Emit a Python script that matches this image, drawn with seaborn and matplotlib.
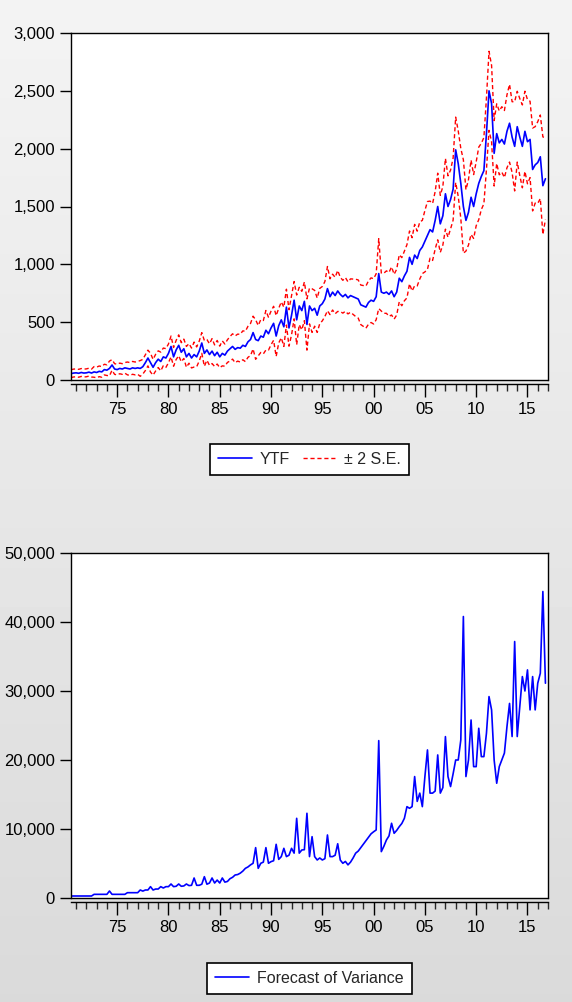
"""
Forecast chart: YTF with +/- 2 S.E. band and the forecast of variance.
"""
import numpy as np
import pandas as pd
import matplotlib
matplotlib.use('Agg')
import matplotlib.pyplot as plt
import matplotlib.ticker as mticker
import seaborn as sns

# Quarterly values, first point 1970 Q3
START_YEAR = 1970.5

ytf = [
    55, 60,                      # 1970
    62, 58, 65, 60,              # 1971
    62, 68, 60, 70,              # 1972
    65, 75, 70, 90,              # 1973
    85, 100, 130, 95,            # 1974
    90, 100, 95, 105,            # 1975
    100, 95, 105, 100,           # 1976
    105, 100, 115, 150,          # 1977
    190, 150, 110, 150,          # 1978
    180, 160, 200, 190,          # 1979
    230, 290, 200, 260,          # 1980
    300, 240, 270, 200,          # 1981
    230, 190, 220, 200,          # 1982
    250, 320, 230, 260,          # 1983
    220, 250, 210, 240,          # 1984
    200, 230, 215, 250,          # 1985
    270, 290, 265, 280,          # 1986
    275, 300, 290, 330,          # 1987
    350, 410, 350, 340,          # 1988
    380, 370, 430, 400,          # 1989
    450, 490, 380, 470,          # 1990
    520, 460, 630, 450,          # 1991
    560, 690, 520, 640,          # 1992
    600, 680, 480, 640,          # 1993
    600, 620, 560, 640,          # 1994
    660, 700, 790, 720,          # 1995
    760, 730, 770, 740,          # 1996
    720, 740, 710, 730,          # 1997
    720, 710, 700, 650,          # 1998
    640, 630, 670, 690,          # 1999
    680, 720, 920, 760,          # 2000
    750, 760, 740, 770,          # 2001
    720, 760, 880, 850,          # 2002
    900, 940, 1060, 1000,        # 2003
    1080, 1050, 1120, 1150,      # 2004
    1200, 1250, 1300, 1280,      # 2005
    1380, 1500, 1350, 1420,      # 2006
    1610, 1500, 1560, 1650,      # 2007
    1990, 1870, 1700, 1500,      # 2008
    1380, 1450, 1580, 1500,      # 2009
    1610, 1700, 1760, 1810,      # 2010
    2130, 2500, 2390, 1960,      # 2011
    2130, 2050, 2080, 2040,      # 2012
    2150, 2220, 2100, 2020,      # 2013
    2190, 2100, 2020, 2150,      # 2014
    2060, 2080, 1820, 1860,      # 2015
    1880, 1930, 1680, 1740,      # 2016
]

variance = [
    290, 290,                    # 1970
    290, 290, 290, 290,          # 1971
    290, 290, 290, 530,          # 1972
    530, 530, 530, 530,          # 1973
    530, 1015, 530, 530,         # 1974
    530, 530, 530, 530,          # 1975
    770, 770, 770, 770,          # 1976
    770, 1160, 1000, 1160,       # 1977
    1160, 1645, 1160, 1300,      # 1978
    1300, 1645, 1450, 1645,      # 1979
    1645, 2030, 1645, 1700,      # 1980
    2030, 1700, 1750, 2030,      # 1981
    1800, 1840, 2900, 1840,      # 1982
    1840, 2000, 3090, 2000,      # 1983
    2170, 2900, 2170, 2600,      # 1984
    2170, 2900, 2300, 2400,      # 1985
    2800, 3000, 3335, 3400,      # 1986
    3600, 3900, 4300, 4500,      # 1987
    4800, 5030, 7300, 4300,      # 1988
    5030, 5200, 7300, 5030,      # 1989
    5270, 5400, 7780, 5600,      # 1990
    6000, 7200, 6000, 6200,      # 1991
    7200, 6500, 11550, 6500,     # 1992
    6960, 7000, 12280, 6000,     # 1993
    8890, 6000, 5510, 5800,      # 1994
    5510, 5700, 9135, 6000,      # 1995
    6000, 6200, 7860, 5500,      # 1996
    5030, 5300, 4800, 5200,      # 1997
    5800, 6500, 6800, 7300,      # 1998
    7800, 8300, 8800, 9300,      # 1999
    9600, 9860, 22810, 6720,     # 2000
    7500, 8410, 9000, 10830,     # 2001
    9380, 9800, 10340, 10800,    # 2002
    11550, 13240, 13000, 13240,  # 2003
    17600, 14000, 15200, 13240,  # 2004
    17600, 21460, 15200, 15200,  # 2005
    15500, 20735, 15200, 16000,  # 2006
    23390, 17600, 16150, 18000,  # 2007
    20000, 20000, 22900, 40790,  # 2008
    17600, 20000, 25800, 19040,  # 2009
    19040, 24600, 20490, 20490,  # 2010
    23880, 29190, 27260, 20000,  # 2011
    16630, 19040, 20000, 21000,  # 2012
    24840, 28200, 23400, 37170,  # 2013
    23400, 27740, 32090, 30000,  # 2014
    33060, 27260, 32090, 27260,  # 2015
    31130, 32570, 44420, 31130,  # 2016
]

sns.set_theme(style='white')
plt.rcParams['font.family'] = ['Liberation Sans', 'DejaVu Sans']

# Build the plotting table
years = START_YEAR + np.arange(len(ytf)) * 0.25
band = 2 * np.sqrt(np.array(variance, dtype=float))
df = pd.DataFrame({
    'year': years,
    'ytf': ytf,
    'upper': np.array(ytf) + band,
    'lower': np.array(ytf) - band,
    'variance': variance,
})

W, H = 572, 1002
fig = plt.figure(figsize=(W / 100, H / 100), dpi=100)

# Light grey gradient behind everything
bg = fig.add_axes([0, 0, 1, 1], zorder=-10)
bg.imshow(np.linspace(0.955, 0.855, 256).reshape(-1, 1), aspect='auto',
          cmap='gray', vmin=0, vmax=1)
bg.axis('off')

ax1 = fig.add_axes([71 / W, 1 - 380 / H, 477 / W, 347 / H])
ax2 = fig.add_axes([71 / W, 1 - 898 / H, 477 / W, 345 / H])

BLUE = '#0000ff'
RED = '#ff0000'

sns.lineplot(data=df, x='year', y='ytf', ax=ax1, color=BLUE, lw=1.2,
             label='YTF', errorbar=None)
sns.lineplot(data=df, x='year', y='upper', ax=ax1, color=RED, lw=1.0,
             linestyle=(0, (3, 2)), label='\u00b1 2 S.E.', errorbar=None)
sns.lineplot(data=df, x='year', y='lower', ax=ax1, color=RED, lw=1.0,
             linestyle=(0, (3, 2)), label='_nolegend_', errorbar=None)

sns.lineplot(data=df, x='year', y='variance', ax=ax2, color=BLUE, lw=1.2,
             label='Forecast of Variance', errorbar=None)


def style_axis(ax, ymax, ystep, legend_y, ncol):
    ax.set_facecolor('white')
    ax.set_xlim(1970.5, 2017.0)
    ax.set_ylim(0, ymax)
    ax.set_xlabel('')
    ax.set_ylabel('')
    ax.grid(False)
    for s in ax.spines.values():
        s.set_color('black')
        s.set_linewidth(1.0)
    ax.spines['bottom'].set_position(('outward', 3))
    ax.axhline(0, color='black', lw=1.0, clip_on=False)

    ax.xaxis.set_major_locator(mticker.MultipleLocator(5))
    ax.xaxis.set_minor_locator(mticker.MultipleLocator(1))
    ax.xaxis.set_major_formatter(
        mticker.FuncFormatter(lambda v, _: f"{int(round(v)) % 100:02d}"))
    ax.yaxis.set_major_locator(mticker.MultipleLocator(ystep))
    ax.yaxis.set_major_formatter(mticker.StrMethodFormatter('{x:,.0f}'))

    ax.tick_params(axis='x', which='major', bottom=True, length=9, width=1,
                   direction='out', labelsize=12, pad=4, colors='black')
    ax.tick_params(axis='x', which='minor', bottom=True, length=5, width=1,
                   direction='out')
    ax.tick_params(axis='y', which='major', left=True, length=8, width=1,
                   direction='out', labelsize=12, pad=3.5, colors='black')

    leg = ax.legend(loc='center', bbox_to_anchor=(0.5, legend_y), ncol=ncol,
                    frameon=True, fancybox=False, framealpha=1,
                    edgecolor='black', fontsize=11.5, handlelength=2.1,
                    handletextpad=0.5, columnspacing=0.8, borderpad=0.5)
    leg.get_frame().set_linewidth(1.2)


style_axis(ax1, 3000, 500, -0.229, 2)
style_axis(ax2, 50000, 10000, -0.232, 1)

fig.savefig('out.png', dpi=100)
plt.close(fig)
